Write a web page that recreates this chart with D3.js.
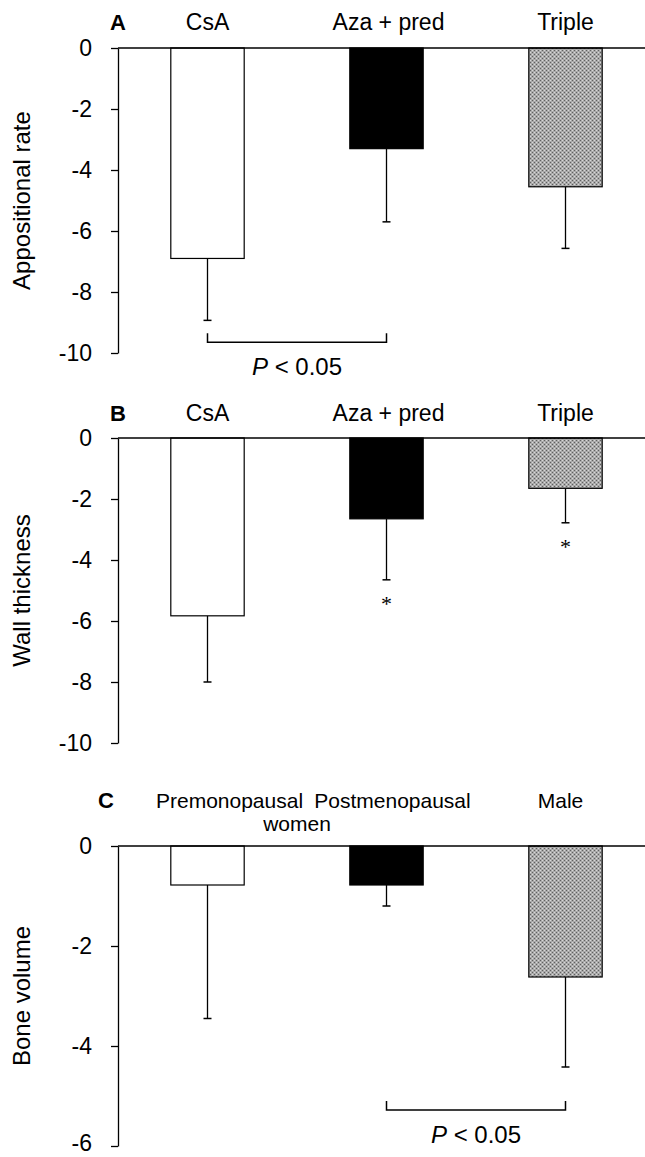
<!DOCTYPE html>
<html>
<head>
<meta charset="utf-8">
<script src="https://cdn.jsdelivr.net/npm/d3@7"></script>
<style>
  body { margin: 0; background: #fff; }
  svg { display: block; font-family: "Liberation Sans", Arial, sans-serif; }
</style>
</head>
<body>
<div id="chart-area"></div>
<script>
// data
var groupsAB = ["CsA", "Aza + pred", "Triple"];
var groupsC = ["Premonopausal", "Postmenopausal", "Male"];
var subLabelC = "women";

var appositional = [-6.9, -3.3, -4.55];
var appositionalErr = [-8.93, -5.7, -6.57];

var wall = [-5.83, -2.65, -1.65];
var wallErr = [-8.0, -4.65, -2.78];
var wallStar = [false, true, true];

var bone = [-0.78, -0.78, -2.62];
var boneErr = [-3.45, -1.2, -4.42];

var ticksAB = [0, -2, -4, -6, -8, -10];
var ticksC = [0, -2, -4, -6];

var W = 645, H = 1157;
var fills = ["#ffffff", "#000000", "url(#stipple)"];

var svg = d3.select("#chart-area").append("svg")
	.attr("width", W)
	.attr("height", H);

// stippled grey for the third bar
var pat = svg.append("defs").append("pattern")
	.attr("id", "stipple")
	.attr("width", 4).attr("height", 4)
	.attr("patternUnits", "userSpaceOnUse");
pat.append("rect").attr("width", 4).attr("height", 4).attr("fill", "#a9a9a9");
pat.append("rect").attr("x", 0).attr("y", 0).attr("width", 1).attr("height", 1).attr("fill", "#606060");
pat.append("rect").attr("x", 2).attr("y", 2).attr("width", 1).attr("height", 1).attr("fill", "#606060");
pat.append("rect").attr("x", 2).attr("y", 0).attr("width", 1).attr("height", 1).attr("fill", "#d8d8d8");
pat.append("rect").attr("x", 0).attr("y", 2).attr("width", 1).attr("height", 1).attr("fill", "#d8d8d8");

var x = d3.scaleBand()
	.domain([0, 1, 2])
	.range([118, 655])
	.paddingInner(0.59)
	.paddingOuter(0.295);

function drawPanel(opt) {
	var g = svg.append("g");
	var y = d3.scaleLinear()
		.domain([0, opt.min])
		.range([opt.top, opt.bottom]);

	// y axis
	var axis = d3.axisLeft(y)
		.tickValues(opt.ticks)
		.tickFormat(function(d){ return d == 0 ? "0" : "-" + Math.abs(d); })
		.tickSize(7)
		.tickPadding(19)
		.tickSizeOuter(0);
	var ax = g.append("g")
		.attr("transform", "translate(118,0)")
		.call(axis);
	ax.select(".domain").attr("stroke", "#000").attr("stroke-width", 1.3);
	ax.selectAll(".tick line").attr("stroke-width", 1.3);
	ax.selectAll("text")
		.style("font-size", "23px")
		.style("font-family", "Liberation Sans, Arial, sans-serif")
		.attr("fill", "#000");
	// keep the lowest label inside the picture
	ax.selectAll(".tick text")
		.filter(function(d){ return y(d) > H - 20; })
		.attr("dy", "0.2em");

	// axis title
	g.append("text")
		.attr("transform", "translate(30," + ((opt.top + opt.bottom) / 2) + ") rotate(-90)")
		.attr("text-anchor", "middle")
		.style("font-size", "24px")
		.text(opt.title);

	// error bars (down only)
	opt.values.forEach(function(v, i){
		var cx = x(i) + x.bandwidth() / 2;
		g.append("line")
			.attr("x1", cx).attr("x2", cx)
			.attr("y1", y(v)).attr("y2", y(opt.err[i]))
			.attr("stroke", "#000").attr("stroke-width", 1.3);
		g.append("line")
			.attr("x1", cx - 4).attr("x2", cx + 4)
			.attr("y1", y(opt.err[i])).attr("y2", y(opt.err[i]))
			.attr("stroke", "#000").attr("stroke-width", 1.5);
	});

	// bars
	g.selectAll("rect.bar")
		.data(opt.values)
		.enter()
		.append("rect")
			.attr("class", "bar")
			.attr("x", function(d, i){ return x(i); })
			.attr("y", y(0))
			.attr("width", x.bandwidth())
			.attr("height", function(d){ return y(d) - y(0); })
			.attr("fill", function(d, i){ return fills[i]; })
			.attr("stroke", "#000")
			.attr("stroke-width", 1.2);

	// zero line
	g.append("line")
		.attr("x1", 118).attr("x2", W)
		.attr("y1", y(0)).attr("y2", y(0))
		.attr("stroke", "#000").attr("stroke-width", 1.5);

	// panel letter
	g.append("text")
		.attr("x", opt.letterX)
		.attr("y", opt.labelY)
		.attr("text-anchor", "middle")
		.style("font-size", "22px")
		.style("font-weight", "bold")
		.text(opt.letter);

	// group labels
	g.selectAll("text.grp")
		.data(opt.groups)
		.enter()
		.append("text")
			.attr("class", "grp")
			.attr("x", function(d, i){ return x(i) + x.bandwidth() / 2 + opt.labelDx[i]; })
			.attr("y", opt.labelY)
			.attr("text-anchor", "middle")
			.style("font-size", opt.labelSize)
			.text(function(d){ return d; });

	// stars
	if (opt.stars) {
		opt.stars.forEach(function(s, i){
			if (!s) return;
			g.append("text")
				.attr("x", x(i) + x.bandwidth() / 2)
				.attr("y", y(opt.err[i]) + 31)
				.attr("text-anchor", "middle")
				.style("font-size", "22px")
				.style("font-family", "Liberation Serif, serif")
				.text("*");
		});
	}

	// significance bracket
	if (opt.bracket) {
		var b = opt.bracket;
		var x1 = x(b.from) + x.bandwidth() / 2;
		var x2 = x(b.to) + x.bandwidth() / 2;
		var by = y(b.at);
		g.append("path")
			.attr("d", "M" + x1 + "," + (by - 9) + "V" + by + "H" + x2 + "V" + (by - 9))
			.attr("fill", "none")
			.attr("stroke", "#000")
			.attr("stroke-width", 1.5);
		var t = g.append("text")
			.attr("x", (x1 + x2) / 2)
			.attr("y", by + 33)
			.attr("text-anchor", "middle")
			.style("font-size", "24px");
		t.append("tspan").style("font-style", "italic").text("P");
		t.append("tspan").text(" < 0.05");
	}
	return g;
}

drawPanel({
	letter: "A", letterX: 118, labelY: 30,
	groups: groupsAB, labelDx: [0, 2, 0], labelSize: "23px",
	title: "Appositional rate",
	top: 48, bottom: 353, min: -10, ticks: ticksAB,
	values: appositional, err: appositionalErr,
	bracket: {from: 0, to: 1, at: -9.65}
});

drawPanel({
	letter: "B", letterX: 118, labelY: 421,
	groups: groupsAB, labelDx: [0, 2, 0], labelSize: "23px",
	title: "Wall thickness",
	top: 438, bottom: 743, min: -10, ticks: ticksAB,
	values: wall, err: wallErr, stars: wallStar
});

var gC = drawPanel({
	letter: "C", letterX: 106, labelY: 808,
	groups: groupsC, labelDx: [22, 6, -5], labelSize: "21px",
	title: "Bone volume",
	top: 846, bottom: 1146, min: -6, ticks: ticksC,
	values: bone, err: boneErr,
	bracket: {from: 1, to: 2, at: -5.28}
});

gC.append("text")
	.attr("x", 297)
	.attr("y", 831)
	.attr("text-anchor", "middle")
	.style("font-size", "21px")
	.text(subLabelC);
</script>
</body>
</html>
